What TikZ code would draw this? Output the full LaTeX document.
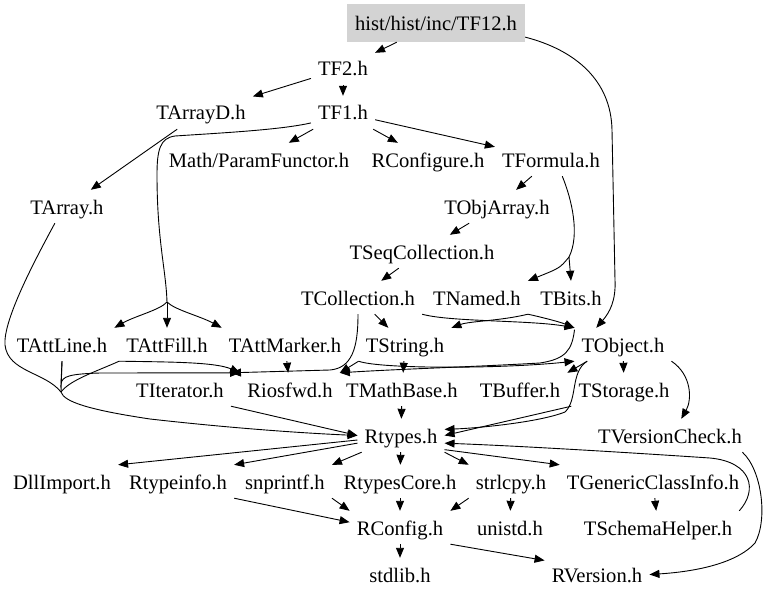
\documentclass[tikz,border=0pt]{standalone}
\usepackage{fontspec}
\setmainfont{Liberation Serif}
\usetikzlibrary{arrows.meta}
\definecolor{rootgray}{RGB}{211,211,211}
\begin{document}
\begin{tikzpicture}[x=1pt,y=-1pt,
				every node/.style={font=\fontsize{20.6}{24}\selectfont,text height=18pt,text depth=3pt,
					minimum height=33pt,inner xsep=7pt,inner ysep=0pt},
				root/.style={fill=rootgray,minimum height=38pt,minimum width=178pt},
				wire/.style={line width=0.9pt},
				inc/.style={wire,-{Triangle[length=10pt,width=8pt]}}]
\useasboundingbox (0,0) rectangle (768,599);
% files
\node[root] (TFtwelve) at (436,23) {hist/hist/inc/TF12.h};
\node (TFtwo) at (343,68.5) {TF2.h};
\node (TArrayD) at (201,112.5) {TArrayD.h};
\node (TFone) at (343,112.5) {TF1.h};
\node (ParamFunctor) at (259,159.5) {Math/ParamFunctor.h};
\node (RConfigure) at (428,159.5) {RConfigure.h};
\node (TFormula) at (551,159.5) {TFormula.h};
\node (TArray) at (67,206.5) {TArray.h};
\node (TObjArray) at (497,206.5) {TObjArray.h};
\node (TSeqCollection) at (422,251.5) {TSeqCollection.h};
\node (TCollection) at (358,297.5) {TCollection.h};
\node (TNamed) at (477,297.5) {TNamed.h};
\node (TBits) at (571,297.5) {TBits.h};
\node (TAttLine) at (62,344.5) {TAttLine.h};
\node (TAttFill) at (167,344.5) {TAttFill.h};
\node (TAttMarker) at (285,344.5) {TAttMarker.h};
\node (TString) at (405,344.5) {TString.h};
\node (TObject) at (623,344.5) {TObject.h};
\node (TIterator) at (180,389.5) {TIterator.h};
\node (Riosfwd) at (290,389.5) {Riosfwd.h};
\node (TMathBase) at (402,389.5) {TMathBase.h};
\node (TBuffer) at (520,389.5) {TBuffer.h};
\node (TStorage) at (624,389.5) {TStorage.h};
\node (Rtypes) at (401,435.5) {Rtypes.h};
\node (TVersionCheck) at (670,435.5) {TVersionCheck.h};
\node (DllImport) at (62,481.5) {DllImport.h};
\node (Rtypeinfo) at (178,481.5) {Rtypeinfo.h};
\node (snprintf) at (285,481.5) {snprintf.h};
\node (RtypesCore) at (400,481.5) {RtypesCore.h};
\node (strlcpy) at (511,481.5) {strlcpy.h};
\node (TGenericClassInfo) at (653,481.5) {TGenericClassInfo.h};
\node (RConfig) at (400,527.5) {RConfig.h};
\node (unistd) at (510,527.5) {unistd.h};
\node (TSchemaHelper) at (658,527.5) {TSchemaHelper.h};
\node (stdlib) at (400,574.5) {stdlib.h};
\node (RVersion) at (597,574.5) {RVersion.h};
\coordinate (attsplit) at (167,302);
\coordinate (formsplit) at (569,257);
\coordinate (attmerge) at (61,392);
% includes
\draw[inc] (TFtwelve) -- (TFtwo);
\draw[inc] (TFtwelve.-9) .. controls (575,50) and (611,80) .. (612,130) -- (615,280)
	.. controls (616,300) and (610,312) .. (TObject.148);
\draw[inc] (TFtwo) -- (TArrayD);
\draw[inc] (TFtwo) -- (TFone);
\draw[inc] (TArrayD) -- (TArray);
\draw[inc] (TFone) -- (ParamFunctor);
\draw[inc] (TFone) -- (RConfigure);
\draw[inc] (TFone) -- (TFormula);
\draw[wire] (TFone.198) .. controls (280,130) and (220,133) .. (175,136)
	.. controls (160,138) and (157,150) .. (157,175) .. controls (157,240) and (166,270) .. (attsplit);
\draw[inc] (attsplit) .. controls (160,310) and (135,316) .. (TAttLine.north east);
\draw[inc] (attsplit) -- (TAttFill.north);
\draw[inc] (attsplit) .. controls (175,310) and (200,316) .. (TAttMarker.north west);
\draw[inc] (TFormula) -- (TObjArray);
\draw[wire] (TFormula.-56) .. controls (572,200) and (580,235) .. (formsplit);
\draw[inc] (formsplit) .. controls (560,268) .. (TNamed.north east);
\draw[inc] (formsplit) -- (TBits.north);
\draw[inc] (TObjArray) -- (TSeqCollection);
\draw[inc] (TSeqCollection) -- (TCollection);
\draw[inc] (TCollection) -- (TString);
\draw[inc] (TCollection.south east) .. controls (450,322) and (530,320) .. (TObject.north west);
\draw[inc] (TCollection.south) .. controls (358,348) and (352,368) .. (330,370) -- (TIterator.north east);
\draw[inc] (TNamed.south east) .. controls (545,318) and (560,322) .. (TObject.north west);
\draw[inc] (TNamed.south east) .. controls (500,321) and (470,321) .. (TString.north east);
\draw[inc] (TObject.163) .. controls (572,350) and (566,359) .. (540,363)
	.. controls (470,367) and (400,369) .. (Riosfwd.north east);
\draw[inc] (TString.south west) .. controls (380,369) and (500,369) .. (TObject.south west);
\draw[inc] (TString.south west) -- (Riosfwd.north east);
\draw[inc] (TString) -- (TMathBase);
\draw[inc] (TAttMarker) -- (Riosfwd);
\draw[inc] (TAttLine.south) -- (61,384) .. controls (62,376) and (70,374) .. (100,373) -- (Riosfwd.north west);
\draw[inc] (TAttFill.south west) .. controls (170,362) and (215,362) .. (Riosfwd.north west);
\draw[wire] (TAttLine.south) -- (attmerge);
\draw[wire] (TAttFill.south west) .. controls (95,372) and (70,380) .. (attmerge);
\draw[wire] (TArray.-126) .. controls (35,260) and (3,320) .. (5,345) .. controls (8,372) and (45,372) .. (attmerge);
\draw[inc] (attmerge) .. controls (64,402) and (90,410) .. (150,419) .. controls (230,428) and (300,433) .. (Rtypes.west);
\draw[inc] (TIterator.south east) -- (Rtypes.west);
\draw[inc] (TMathBase) -- (Rtypes);
\draw[inc] (TObject) -- (TStorage);
\draw[inc] (TObject.-155) -- (TBuffer.north east);
\draw[inc] (TObject.south east) .. controls (692,375) and (692,400) .. (TVersionCheck.56);
\draw[inc] (TObject.-155) .. controls (570,372) and (578,400) .. (565,412) .. controls (540,422) and (480,428) .. (Rtypes.8);
\draw[inc] (TStorage.south west) -- (Rtypes.east);
\draw[inc] (TSchemaHelper.north east) .. controls (758,490) and (752,462) .. (710,458)
	.. controls (620,452) and (520,446) .. (Rtypes.-10);
\draw[inc] (TVersionCheck.-13) .. controls (762,470) and (768,520) .. (755,543)
	.. controls (735,565) and (690,572) .. (RVersion.east);
\draw[inc] (Rtypes) -- (DllImport.north east);
\draw[inc] (Rtypes) -- (Rtypeinfo.north east);
\draw[inc] (Rtypes) -- (snprintf.north east);
\draw[inc] (Rtypes) -- (RtypesCore);
\draw[inc] (Rtypes.south east) -- (strlcpy.north west);
\draw[inc] (Rtypes.-18) -- (TGenericClassInfo.north west);
\draw[inc] (RtypesCore) -- (RConfig);
\draw[inc] (Rtypeinfo.south east) -- (RConfig.174);
\draw[inc] (snprintf.south east) -- (RConfig.north west);
\draw[inc] (strlcpy.south west) -- (RConfig.north east);
\draw[inc] (strlcpy) -- (unistd);
\draw[inc] (TGenericClassInfo) -- (TSchemaHelper);
\draw[inc] (RConfig) -- (stdlib);
\draw[inc] (RConfig.south east) -- (RVersion.165);
\end{tikzpicture}
\end{document}
